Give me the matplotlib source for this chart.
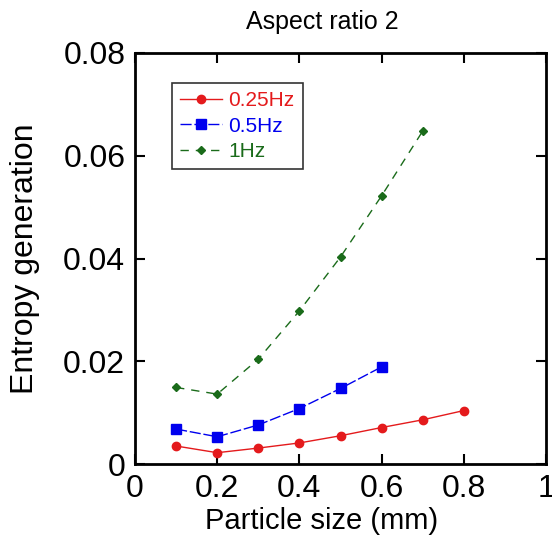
import numpy as np
import matplotlib
matplotlib.use("Agg")
import matplotlib.pyplot as plt

plt.rcParams['font.family'] = ['Liberation Sans', 'DejaVu Sans']

#particle size (mm) for each frequency
size_025 = [0.1, 0.2, 0.3, 0.4, 0.5, 0.6, 0.7, 0.8]
ent_025 = [0.0035, 0.0022, 0.0031, 0.0041, 0.0055, 0.0071, 0.0086, 0.0104]

size_05 = [0.1, 0.2, 0.3, 0.4, 0.5, 0.6]
ent_05 = [0.0068, 0.0053, 0.0076, 0.0108, 0.0147, 0.0189]

size_1 = [0.1, 0.2, 0.3, 0.4, 0.5, 0.6, 0.7]
ent_1 = [0.0149, 0.0136, 0.0204, 0.0298, 0.0403, 0.0522, 0.0648]

xticks = [0, 0.2, 0.4, 0.6, 0.8, 1]
xtick_labels = ['0', '0.2', '0.4', '0.6', '0.8', '1']
yticks = [0, 0.02, 0.04, 0.06, 0.08]
ytick_labels = ['0', '0.02', '0.04', '0.06', '0.08']

fig = plt.figure(figsize=(5.52, 5.39), dpi=100)
ax = fig.add_axes([135/552, 1-464/539, 411/552, 411/539])

ax.plot(size_025, ent_025, color='#e41a1c', marker='o', markersize=6, lw=1, label='0.25Hz')
ax.plot(size_05, ent_05, color='#0000ee', marker='s', markersize=7, lw=1,
        dashes=(8, 2), label='0.5Hz')
ax.plot(size_1, ent_1, color='#1a6b1a', marker='D', markersize=4, lw=1,
        dashes=(6, 5), label='1Hz')

ax.set_xlim(0, 1)
ax.set_ylim(0, 0.08)
ax.set_xticks(xticks)
ax.set_xticklabels(xtick_labels)
ax.set_yticks(yticks)
ax.set_yticklabels(ytick_labels)
ax.tick_params(direction='in', top=True, right=True, length=7, width=1.5, labelsize=23, pad=7)
for s in ax.spines.values():
    s.set_linewidth(2)

ax.set_xlabel('Particle size (mm)', fontsize=21)
ax.xaxis.set_label_coords(0.455, -0.105)
ax.set_ylabel('Entropy generation', fontsize=23)
ax.yaxis.set_label_coords(-0.23, 0.5)
fig.text(322/552, 1 - 22/539, 'Aspect ratio 2', ha='center', va='center', fontsize=18)

leg = ax.legend(loc='upper left', bbox_to_anchor=(37/411, 1-30/411), fontsize=15,
                frameon=True, fancybox=False, edgecolor='black', handlelength=2.0,
                borderpad=0.4, labelspacing=0.3, handletextpad=0.3, borderaxespad=0)
leg.get_frame().set_linewidth(1.2)
for txt, line in zip(leg.get_texts(), leg.get_lines()):
    txt.set_color(line.get_color())

fig.savefig('out.png', dpi=100)
